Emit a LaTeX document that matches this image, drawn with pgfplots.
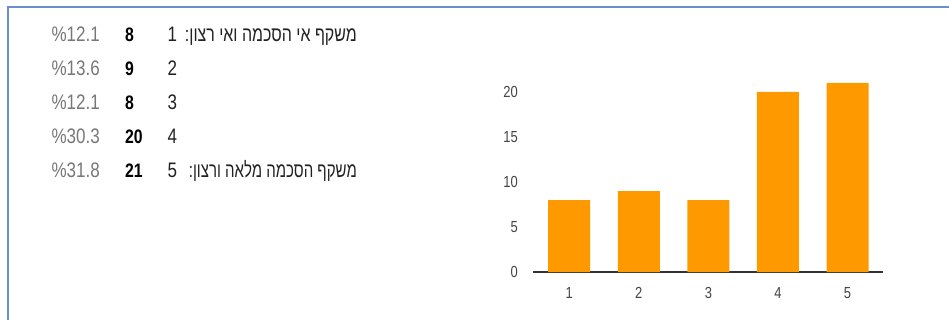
\documentclass[border=0pt]{standalone}
\usepackage{fontspec}
\usepackage{pgfplots}
\pgfplotsset{compat=1.18}
\setmainfont{Liberation Sans}
\newfontfamily\narrow[FakeStretch=0.81]{Liberation Sans}
\newfontfamily\hebfont[Script=Hebrew,FakeStretch=0.76]{Liberation Sans}
\newfontfamily\hebfontb[Script=Hebrew,FakeStretch=0.715]{Liberation Sans}
\TeXXeTstate=1
\definecolor{barorange}{HTML}{FF9900}
\definecolor{bordercol}{HTML}{6A8FCB}
\definecolor{pctgray}{HTML}{777777}
\definecolor{labdark}{HTML}{222222}
\definecolor{ticktext}{HTML}{444444}
\definecolor{axisline}{HTML}{333333}
\newcommand{\rowfont}{\narrow\fontsize{21}{25}\selectfont}
\newcommand{\rowfontb}{\narrow\bfseries\fontsize{19.5}{24}\selectfont}
\begin{document}
\begin{tikzpicture}
\useasboundingbox (0,0) rectangle (949pt,-320pt);
\draw[line width=2pt, bordercol] (8pt,-322pt) -- (8pt,-7pt) -- (951pt,-7pt);
% list rows
\foreach \y/\p/\c/\n in {-42/12.1/8/1, -76/13.6/9/2, -110/12.1/8/3, -144/30.3/20/4, -178/31.8/21/5}{
  \node[anchor=base east, inner sep=0pt, text=pctgray] at (100pt,\y pt) {\rowfont\%\p};
  \node[anchor=base west, inner sep=0pt, text=black] at (125pt,\y pt) {\rowfontb\c};
  \node[anchor=base west, inner sep=0pt, text=labdark] at (167.5pt,\y pt) {\rowfont\n};
}
\node[anchor=base east, inner sep=0pt, text=labdark] at (357pt,-42pt) {\hebfont\fontsize{21}{25}\selectfont\beginR משקף אי הסכמה ואי רצון:\endR};
\node[anchor=base east, inner sep=0pt, text=labdark] at (357pt,-178pt) {\hebfontb\fontsize{21}{25}\selectfont\beginR משקף הסכמה מלאה ורצון:\endR};
\begin{axis}[
  at={(533pt,-272pt)}, anchor=south west,
  scale only axis, width=350pt, height=198pt,
  xmin=0.48, xmax=5.51, ymin=0, ymax=22,
  axis x line*=bottom, axis y line*=left,
  y axis line style={draw=none},
  x axis line style={draw=axisline, line width=1.8pt},
  major tick length=0pt,
  xtick={1,2,3,4,5}, ytick={0,5,10,15,20},
  /pgf/number format/assume math mode=true,
  ticklabel style={font=\narrow\fontsize{16}{19}\selectfont, text=ticktext},
  yticklabel style={anchor=east, inner sep=0pt, xshift=-15pt},
  xticklabel style={anchor=north, inner sep=0pt, yshift=-15pt},
  ybar, bar width=42pt,
]
\addplot[fill=barorange, draw=none] coordinates {(1,8) (2,9) (3,8) (4,20) (5,21)};
\end{axis}
\end{tikzpicture}
\end{document}
